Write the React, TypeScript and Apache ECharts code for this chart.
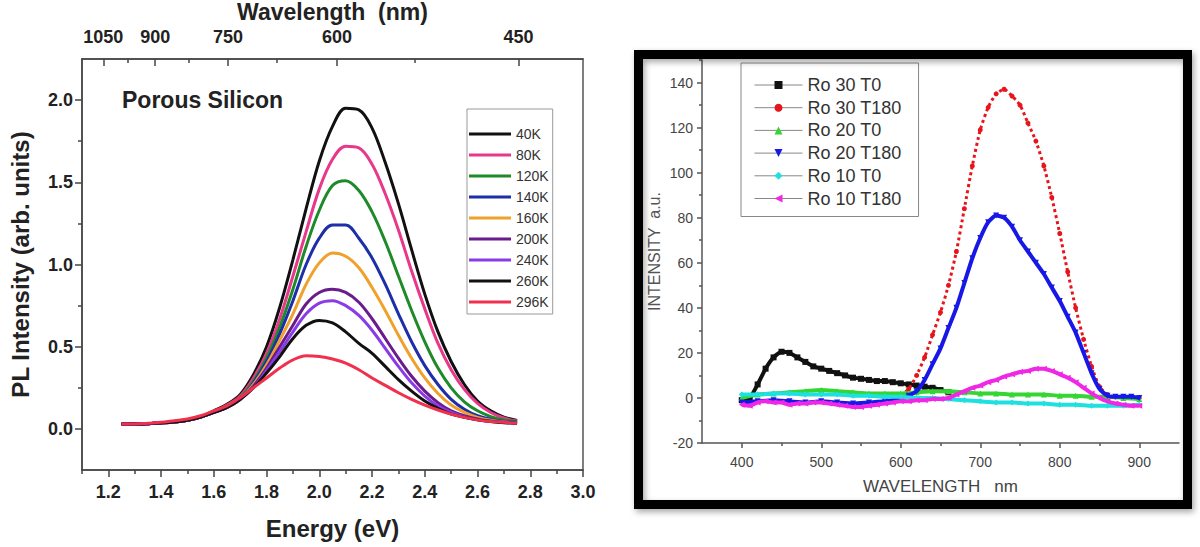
import { useEffect, useRef } from "react";
import * as echarts from "echarts";

const FONT = "'Liberation Sans', Arial, sans-serif";

// ---------- Left panel: PL spectra of porous silicon ----------
const energyEV = [1.25, 1.3, 1.35, 1.4, 1.45, 1.5, 1.55, 1.6, 1.65, 1.7, 1.75, 1.8, 1.85, 1.9, 1.95, 2.0, 2.05, 2.1, 2.15, 2.2, 2.25, 2.3, 2.35, 2.4, 2.45, 2.5, 2.55, 2.6, 2.65, 2.7, 2.75];

const pl40K = [0.03, 0.03, 0.032, 0.036, 0.042, 0.053, 0.072, 0.11, 0.15, 0.21, 0.33, 0.5, 0.74, 1.03, 1.34, 1.63, 1.84, 1.95, 1.94, 1.83, 1.62, 1.37, 1.09, 0.82, 0.59, 0.41, 0.27, 0.17, 0.11, 0.072, 0.051];
const pl80K = [0.03, 0.03, 0.032, 0.036, 0.042, 0.053, 0.072, 0.105, 0.145, 0.2, 0.31, 0.46, 0.67, 0.93, 1.2, 1.46, 1.64, 1.72, 1.71, 1.61, 1.43, 1.21, 0.96, 0.73, 0.52, 0.36, 0.24, 0.155, 0.1, 0.066, 0.048];
const pl120K = [0.03, 0.03, 0.032, 0.036, 0.042, 0.053, 0.072, 0.1, 0.14, 0.19, 0.29, 0.43, 0.62, 0.85, 1.11, 1.33, 1.48, 1.51, 1.45, 1.32, 1.14, 0.93, 0.72, 0.53, 0.37, 0.25, 0.165, 0.11, 0.075, 0.055, 0.045];
const pl140K = [0.03, 0.03, 0.032, 0.036, 0.042, 0.053, 0.072, 0.1, 0.135, 0.18, 0.28, 0.41, 0.58, 0.78, 1.0, 1.16, 1.24, 1.24, 1.16, 1.04, 0.88, 0.7, 0.53, 0.385, 0.27, 0.18, 0.12, 0.08, 0.058, 0.045, 0.04];
const pl160K = [0.03, 0.03, 0.032, 0.036, 0.042, 0.053, 0.072, 0.1, 0.13, 0.18, 0.27, 0.39, 0.54, 0.7, 0.88, 1.01, 1.07, 1.05, 0.98, 0.86, 0.72, 0.57, 0.43, 0.31, 0.215, 0.145, 0.1, 0.07, 0.052, 0.042, 0.038];
const pl200K = [0.03, 0.03, 0.032, 0.036, 0.042, 0.053, 0.072, 0.1, 0.13, 0.18, 0.26, 0.37, 0.5, 0.63, 0.76, 0.83, 0.85, 0.83, 0.77, 0.67, 0.55, 0.43, 0.32, 0.23, 0.16, 0.11, 0.08, 0.06, 0.048, 0.04, 0.036];
const pl240K = [0.03, 0.03, 0.032, 0.036, 0.042, 0.053, 0.072, 0.1, 0.13, 0.18, 0.25, 0.355, 0.47, 0.59, 0.7, 0.765, 0.78, 0.75, 0.69, 0.6, 0.49, 0.38, 0.28, 0.2, 0.14, 0.1, 0.072, 0.055, 0.045, 0.04, 0.035];
const pl260K = [0.03, 0.03, 0.032, 0.036, 0.042, 0.053, 0.072, 0.1, 0.13, 0.18, 0.25, 0.34, 0.44, 0.55, 0.63, 0.66, 0.645, 0.59, 0.52, 0.46, 0.38, 0.3, 0.23, 0.17, 0.125, 0.09, 0.07, 0.055, 0.045, 0.038, 0.035];
const pl296K = [0.03, 0.03, 0.035, 0.04, 0.05, 0.06, 0.08, 0.11, 0.14, 0.19, 0.25, 0.31, 0.37, 0.42, 0.445, 0.44, 0.425, 0.4, 0.36, 0.31, 0.265, 0.22, 0.18, 0.145, 0.115, 0.09, 0.07, 0.055, 0.045, 0.04, 0.035];

const tempNames = ["40K", "80K", "120K", "140K", "160K", "200K", "240K", "260K", "296K"];
const tempSeries = [pl40K, pl80K, pl120K, pl140K, pl160K, pl200K, pl240K, pl260K, pl296K];
const tempColors = ["#111111", "#e8388a", "#1f8a2a", "#1d2fa8", "#f0a12c", "#6a1b8c", "#8a3be6", "#111111", "#f0304c"];

const energyTicks = [1.2, 1.4, 1.6, 1.8, 2.0, 2.2, 2.4, 2.6, 2.8, 3.0];
const energyMinorTicks = [1.1, 1.3, 1.5, 1.7, 1.9, 2.1, 2.3, 2.5, 2.7, 2.9];
const intensityTicks = [0, 0.5, 1.0, 1.5, 2.0];
const intensityMinorTicks = [0.25, 0.75, 1.25, 1.75];
const wavelengthTicks = [1050, 900, 750, 600, 450];
const wavelengthMinorTicks = [975, 825, 675, 525];

// ---------- Right panel: intensity vs wavelength ----------
const ro30T0 = [[400, -1], [410, 0], [420, 6], [430, 13], [440, 18], [450, 20.5], [460, 20], [470, 18], [480, 16], [490, 14], [500, 13], [510, 12], [520, 11], [530, 10], [540, 9], [550, 8.5], [560, 8], [570, 7.5], [580, 7.5], [590, 7], [600, 6.5], [610, 6], [620, 5.5], [630, 5], [640, 4.5], [650, 3.5], [660, 2.5]];
const ro30T180 = [[600, 1], [610, 4], [620, 10], [630, 18], [640, 28], [650, 38], [660, 50], [670, 65], [680, 84], [690, 103], [700, 119], [710, 129], [720, 135], [730, 137], [740, 134], [750, 130], [760, 122], [770, 114], [780, 103], [790, 89], [800, 73], [810, 56], [820, 40], [830, 26], [840, 14], [850, 5], [860, 1.5], [870, 0.5], [880, 0.5], [890, 0.3], [900, 0]];
const ro20T0 = [[400, 0], [420, 1.5], [440, 2], [460, 2.5], [480, 3], [500, 3.5], [520, 3], [540, 2.5], [560, 2], [580, 2], [600, 2], [620, 2.5], [640, 3], [660, 3], [680, 2.5], [700, 2], [720, 2], [740, 1.5], [760, 1.5], [780, 1.5], [800, 1], [820, 1], [840, 0.5], [860, 0.5], [880, 0], [900, -0.5]];
const ro20T180 = [[400, -2], [420, -1.5], [440, -1], [460, -1.5], [480, -2], [500, -1.5], [520, -2], [540, -2.5], [560, -2], [580, -1.5], [600, -0.5], [610, 1], [620, 3], [630, 8], [640, 15], [650, 22], [660, 31], [670, 40], [680, 51], [690, 62], [700, 71], [710, 78], [720, 81], [730, 80], [740, 76], [750, 70], [760, 65], [770, 60], [780, 55], [790, 49], [800, 43], [810, 36], [820, 29], [830, 20], [840, 11], [850, 4], [860, 1], [870, 0.5], [880, 0.5], [890, 0.5], [900, 0]];
const ro10T0 = [[400, 1.5], [420, 1.5], [440, 2], [460, 2], [480, 1.5], [500, 1.5], [520, 1.5], [540, 1], [560, 1], [580, 0.5], [600, 0.5], [620, 0], [640, 0], [660, -0.5], [680, -1], [700, -1.5], [720, -2], [740, -2], [760, -2.5], [780, -2.5], [800, -3], [820, -3], [840, -3.5], [860, -3.5], [880, -3.5], [900, -3]];
const ro10T180 = [[400, -3], [410, -3.5], [420, -2], [430, -1.5], [440, -2], [450, -2], [460, -3], [470, -2.5], [480, -2.5], [490, -2], [500, -2], [510, -2.5], [520, -3], [530, -3.5], [540, -4], [550, -4], [560, -3.5], [570, -3], [580, -2.5], [590, -2], [600, -1.5], [610, -1.5], [620, -1], [630, -1], [640, -0.5], [650, -0.5], [660, 0], [670, 1.5], [680, 3], [690, 4.5], [700, 5.5], [710, 7], [720, 8], [730, 9.5], [740, 10.5], [750, 11.5], [760, 12], [770, 13], [780, 13], [790, 12], [800, 10.5], [810, 9], [820, 7], [830, 4.5], [840, 2], [850, 0], [860, -1.5], [870, -2.5], [880, -3], [890, -3.5], [900, -3.5]];

const sampleNames = ["Ro 30 T0", "Ro 30 T180", "Ro 20 T0", "Ro 20 T180", "Ro 10 T0", "Ro 10 T180"];
const sampleData = [ro30T0, ro30T180, ro20T0, ro20T180, ro10T0, ro10T180];
const sampleColors = ["#111111", "#e8141c", "#33d633", "#1818e6", "#1ee0e0", "#f028e6"];
const sampleSymbols = ["rect", "circle", "triangle", "path://M0,0 L10,0 L5,10 Z", "diamond", "path://M10,0 L10,10 L0,5 Z"];

const wlTicks = [400, 500, 600, 700, 800, 900];
const wlMinorTicks = [450, 550, 650, 750, 850];
const intTicks = [-20, 0, 20, 40, 60, 80, 100, 120, 140];
const intMinorTicks = [-10, 10, 30, 50, 70, 90, 110, 130, 150];

function buildOption(): any {
  const leftLabel = { fontFamily: FONT, fontWeight: "bold", fontSize: 18, color: "#222" };
  const rightLabel = { fontFamily: FONT, fontSize: 14, color: "#444" };
  const leftAxisLine = { show: true, onZero: false, lineStyle: { color: "#444", width: 1.5 } };
  const rightAxisLine = { show: true, onZero: false, lineStyle: { color: "#555", width: 1.5 } };

  const leftSeries = tempNames.map((name, i) => ({
    name,
    type: "line",
    xAxisIndex: 0,
    yAxisIndex: 0,
    data: energyEV.map((e, k) => [e, tempSeries[i][k]]),
    symbol: "none",
    smooth: 0.35,
    color: tempColors[i],
    lineStyle: { width: 3, color: tempColors[i] },
    z: 2 + i,
  }));

  const rightSeries = sampleNames.map((name, i) => {
    const isRed = i === 1;
    return {
      name,
      type: "line",
      xAxisIndex: 3,
      yAxisIndex: 2,
      data: sampleData[i],
      symbol: sampleSymbols[i],
      symbolSize: isRed ? 5 : 6,
      showSymbol: true,
      smooth: 0.2,
      color: sampleColors[i],
      itemStyle: { color: sampleColors[i] },
      lineStyle: { width: isRed ? 3 : 4, color: sampleColors[i], type: isRed ? "dotted" : "solid" },
      z: 2 + i,
    };
  });

  return {
    animation: false,
    backgroundColor: "#ffffff",
    textStyle: { fontFamily: FONT },
    grid: [
      { left: 82, top: 59, width: 501, height: 411, show: true, borderColor: "#555", borderWidth: 1.5, backgroundColor: "transparent", containLabel: false, outerBoundsMode: "none" },
      { left: 702, top: 60, width: 477, height: 383, show: false, containLabel: false, outerBoundsMode: "none" },
    ],
    xAxis: [
      {
        gridIndex: 0, type: "value", position: "bottom", min: 1.1, max: 3.0,
        name: "Energy (eV)", nameLocation: "middle", nameGap: 46,
        nameTextStyle: { fontFamily: FONT, fontWeight: "bold", fontSize: 24, color: "#222" },
        axisLine: leftAxisLine,
        axisTick: { show: true, inside: false, length: 7, customValues: energyTicks, lineStyle: { color: "#444", width: 1.5 } },
        axisLabel: { ...leftLabel, margin: 13, customValues: energyTicks, formatter: (v: number) => v.toFixed(1) },
        splitLine: { show: false },
      },
      {
        gridIndex: 0, type: "value", position: "bottom", min: 1.1, max: 3.0,
        axisLine: { show: false, onZero: false },
        axisTick: { show: true, inside: false, length: 4, customValues: energyMinorTicks, lineStyle: { color: "#444", width: 1.5 } },
        axisLabel: { show: false },
        splitLine: { show: false },
      },
      {
        gridIndex: 0, type: "value", position: "top", min: 1.1, max: 3.0,
        name: "Wavelength  (nm)", nameLocation: "middle", nameGap: 36,
        nameTextStyle: { fontFamily: FONT, fontWeight: "bold", fontSize: 23, color: "#222" },
        axisLine: leftAxisLine,
        axisTick: { show: true, inside: true, length: 7, customValues: wavelengthTicks.map((w) => 1240 / w), lineStyle: { color: "#444", width: 1.5 } },
        axisLabel: { ...leftLabel, margin: 13, customValues: wavelengthTicks.map((w) => 1240 / w), formatter: (v: number) => String(Math.round(1240 / v)) },
        splitLine: { show: false },
      },
      {
        gridIndex: 1, type: "value", position: "bottom", min: 350, max: 950,
        name: "WAVELENGTH   nm", nameLocation: "middle", nameGap: 35,
        nameTextStyle: { fontFamily: FONT, fontSize: 17, color: "#444" },
        axisLine: rightAxisLine,
        axisTick: { show: true, inside: false, length: 5, customValues: wlTicks, lineStyle: { color: "#555", width: 1.5 } },
        axisLabel: { ...rightLabel, margin: 12, customValues: wlTicks },
        splitLine: { show: false },
      },
      {
        gridIndex: 1, type: "value", position: "bottom", min: 350, max: 950,
        axisLine: { show: false, onZero: false },
        axisTick: { show: true, inside: false, length: 3, customValues: wlMinorTicks, lineStyle: { color: "#555", width: 1.5 } },
        axisLabel: { show: false },
        splitLine: { show: false },
      },
      {
        gridIndex: 0, type: "value", position: "top", min: 1.1, max: 3.0,
        axisLine: { show: false, onZero: false },
        axisTick: { show: true, inside: true, length: 4, customValues: wavelengthMinorTicks.map((w) => 1240 / w), lineStyle: { color: "#444", width: 1.5 } },
        axisLabel: { show: false },
        splitLine: { show: false },
      },
    ],
    yAxis: [
      {
        gridIndex: 0, type: "value", position: "left", min: -0.25, max: 2.25,
        name: "PL Intensity (arb. units)", nameLocation: "middle", nameGap: 50,
        nameTextStyle: { fontFamily: FONT, fontWeight: "bold", fontSize: 24, color: "#222" },
        axisLine: leftAxisLine,
        axisTick: { show: true, inside: false, length: 7, customValues: intensityTicks, lineStyle: { color: "#444", width: 1.5 } },
        axisLabel: { ...leftLabel, margin: 9, customValues: intensityTicks, formatter: (v: number) => v.toFixed(1) },
        splitLine: { show: false },
      },
      {
        gridIndex: 0, type: "value", position: "left", min: -0.25, max: 2.25,
        axisLine: { show: false, onZero: false },
        axisTick: { show: true, inside: false, length: 4, customValues: intensityMinorTicks, lineStyle: { color: "#444", width: 1.5 } },
        axisLabel: { show: false },
        splitLine: { show: false },
      },
      {
        gridIndex: 1, type: "value", position: "left", min: -20, max: 150,
        name: "INTENSITY  a.u.", nameLocation: "middle", nameGap: 40,
        nameTextStyle: { fontFamily: FONT, fontSize: 16, color: "#555" },
        axisLine: rightAxisLine,
        axisTick: { show: true, inside: false, length: 5, customValues: intTicks, lineStyle: { color: "#555", width: 1.5 } },
        axisLabel: { ...rightLabel, margin: 9, customValues: intTicks },
        splitLine: { show: false },
      },
      {
        gridIndex: 1, type: "value", position: "left", min: -20, max: 150,
        axisLine: { show: false, onZero: false },
        axisTick: { show: true, inside: false, length: 3, customValues: intMinorTicks, lineStyle: { color: "#555", width: 1.5 } },
        axisLabel: { show: false },
        splitLine: { show: false },
      },
    ],
    legend: [
      {
        data: tempNames.map((name) => ({ name, icon: "rect" })),
        orient: "vertical",
        left: 467,
        top: 109,
        itemWidth: 42,
        itemHeight: 3,
        itemGap: 5,
        padding: [17, 4, 4, 2],
        borderColor: "#999",
        borderWidth: 1,
        borderRadius: 0,
        backgroundColor: "#fff",
        textStyle: { fontFamily: FONT, fontSize: 14, color: "#333", lineHeight: 16 },
        selectedMode: false,
      },
      {
        data: sampleNames.map((name, i) => ({
          name,
          lineStyle: { width: 1, color: "#888", type: "solid" },
          itemStyle: { color: sampleColors[i] },
        })),
        orient: "vertical",
        left: 741,
        top: 63,
        itemWidth: 48,
        itemHeight: 10,
        itemGap: 4.7,
        padding: [13, 17, 9, 13],
        borderColor: "#888",
        borderWidth: 1,
        borderRadius: 0,
        backgroundColor: "#fff",
        textStyle: { fontFamily: FONT, fontSize: 18, color: "#333", lineHeight: 18 },
        selectedMode: false,
      },
    ],
    graphic: [
      {
        type: "text",
        left: 122,
        top: 88,
        style: { text: "Porous Silicon", fontFamily: FONT, fontWeight: "bold", fontSize: 23, fill: "#222" },
        z: 20,
      },
      {
        type: "rect",
        shape: { x: 638.5, y: 54.5, width: 549, height: 450 },
        style: { fill: "none", stroke: "#000", lineWidth: 9, shadowBlur: 6, shadowColor: "rgba(0,0,0,0.35)", shadowOffsetX: 2, shadowOffsetY: 3 },
        silent: true,
        z: 30,
      },
    ],
    series: [...leftSeries, ...rightSeries],
  };
}

export default function App() {
  const ref = useRef<HTMLDivElement>(null);
  useEffect(() => {
    if (!ref.current) return;
    const chart = echarts.init(ref.current, null, { renderer: "svg" });
    chart.setOption(buildOption());
    return () => chart.dispose();
  }, []);
  return (
    <div
      ref={ref}
      style={{ position: "fixed", left: 0, top: 0, width: 1200, height: 547, background: "#fff" }}
    />
  );
}
